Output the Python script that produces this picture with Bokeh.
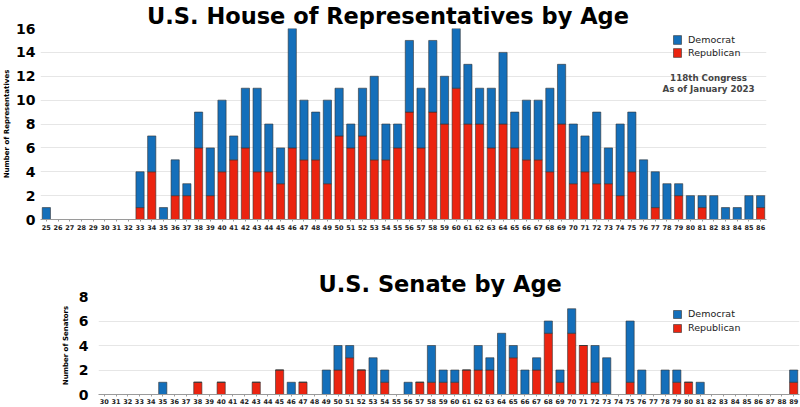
from bokeh.plotting import figure
from bokeh.models import Range1d, FactorRange, Legend, LegendItem, Label, ColumnDataSource
from bokeh.embed import file_html
from bokeh.resources import INLINE

# ---------------- data ----------------
house_ages = [str(a) for a in range(25, 87)]
house_rep = [0, 0, 0, 0, 0, 0, 0, 0, 1, 4, 0, 2, 2, 6, 2, 4, 5, 6, 4, 4, 3, 6, 5, 5, 3, 7, 6, 7, 5, 5,
             6, 9, 6, 9, 8, 11, 8, 8, 6, 8, 6, 5, 5, 4, 8, 3, 4, 3, 3, 2, 4, 0, 1, 0, 2, 0, 1, 0, 0, 0, 0, 1]
house_dem = [1, 0, 0, 0, 0, 0, 0, 0, 3, 3, 1, 3, 1, 3, 4, 6, 2, 5, 7, 4, 3, 10, 5, 4, 7, 4, 2, 4, 7, 3,
             2, 6, 5, 6, 4, 5, 5, 3, 5, 6, 3, 5, 5, 7, 5, 5, 3, 6, 3, 6, 5, 5, 3, 3, 1, 2, 1, 2, 1, 1, 2, 1]

senate_ages = [str(a) for a in range(30, 90)]
senate_rep = [0, 0, 0, 0, 0, 0, 0, 0, 1, 0, 1, 0, 0, 1, 0, 2, 0, 1, 0, 0, 2, 3, 2, 0, 1, 0, 0, 1, 1, 1,
              1, 2, 2, 2, 0, 3, 0, 2, 5, 1, 5, 4, 1, 0, 0, 1, 0, 0, 0, 1, 1, 0, 0, 0, 0, 0, 0, 0, 0, 1]
senate_dem = [0, 0, 0, 0, 0, 1, 0, 0, 0, 0, 0, 0, 0, 0, 0, 0, 1, 0, 0, 2, 2, 1, 0, 3, 1, 0, 1, 0, 3, 1,
              1, 0, 2, 1, 5, 1, 2, 1, 1, 1, 2, 0, 3, 3, 0, 5, 2, 0, 2, 1, 0, 1, 0, 0, 0, 0, 0, 0, 0, 1]

parties = ["rep", "dem"]
colors = ["#EB2410", "#146FBA"]

FONT = "DejaVu Sans"


def style(p, title, offset):
    p.title.text = title
    p.title.text_font = FONT
    p.title.text_font_style = "bold"
    p.title.text_font_size = "22.5px"
    p.title.text_color = "black"
    p.title.align = "left"
    p.title.offset = offset
    p.title.standoff = 0
    p.xgrid.grid_line_color = None
    p.ygrid.grid_line_color = "#e6e6e6"
    p.outline_line_color = None
    p.background_fill_color = "white"
    p.border_fill_color = "white"
    xa = p.xaxis[0]
    xa.axis_line_color = "#9a9a9a"
    xa.major_tick_line_color = "#9a9a9a"
    xa.major_tick_in = 0
    xa.major_tick_out = 2
    xa.major_label_text_font = FONT
    xa.major_label_text_font_style = "bold"
    xa.major_label_text_font_size = "6.5px"
    xa.major_label_text_color = "#222222"
    xa.major_label_standoff = 3
    ya = p.yaxis[0]
    ya.axis_line_color = None
    ya.major_tick_line_color = None
    ya.minor_tick_line_color = None
    ya.major_tick_in = 0
    ya.major_tick_out = 0
    ya.minor_tick_in = 0
    ya.minor_tick_out = 0
    ya.major_label_text_font = FONT
    ya.major_label_text_font_style = "bold"
    ya.major_label_text_font_size = "14px"
    ya.major_label_text_color = "black"
    ya.axis_label_text_font = FONT
    ya.axis_label_text_font_style = "bold"
    ya.axis_label_text_font_size = "7px"
    ya.axis_label_text_color = "black"


def legend(p, rs, loc, gh, sp):
    lg = Legend(items=[LegendItem(label="Democrat", renderers=[rs[1]]),
                       LegendItem(label="Republican", renderers=[rs[0]])],
                location=loc, glyph_width=10, glyph_height=gh, label_height=gh,
                spacing=sp, padding=0, margin=0, border_line_color=None,
                background_fill_alpha=0, label_text_font=FONT,
                label_text_color="#222222",
                label_text_font_size="9.5px", label_standoff=6)
    p.add_layout(lg)


# ---------------- House ----------------
hsrc = ColumnDataSource(dict(age=house_ages, rep=house_rep, dem=house_dem))
ph = figure(x_range=FactorRange(factors=house_ages), y_range=Range1d(0, 16),
            frame_width=726, frame_height=191, min_border_left=39, min_border_right=35,
            min_border_top=23, min_border_bottom=31,
            output_backend="svg", toolbar_location=None)
hr = ph.vbar_stack(parties, x="age", width=0.7, color=colors, line_color="#333333",
                   line_width=0.6, source=hsrc)
style(ph, "U.S. House of Representatives by Age", 106.5)
ph.yaxis[0].ticker = [0, 2, 4, 6, 8, 10, 12, 14, 16]
ph.yaxis[0].axis_label = "Number of Representatives"
ph.yaxis[0].major_label_standoff = 5
ph.yaxis[0].axis_label_standoff = 2
legend(ph, hr, (632, 161), 11, 2)
ph.add_layout(Label(x=668, y=141.5, x_units="screen", y_units="screen",
                    text="118th Congress", text_font=FONT, text_font_style="bold",
                    text_font_size="8.7px", text_align="center", text_baseline="alphabetic"))
ph.add_layout(Label(x=668, y=131, x_units="screen", y_units="screen",
                    text="As of January 2023", text_font=FONT, text_font_style="bold",
                    text_font_size="8.7px", text_align="center", text_baseline="alphabetic"))

# ---------------- Senate ----------------
ssrc = ColumnDataSource(dict(age=senate_ages, rep=senate_rep, dem=senate_dem))
ps = figure(x_range=FactorRange(factors=senate_ages), y_range=Range1d(0, 8),
            frame_width=701, frame_height=98, min_border_left=98, min_border_right=1,
            min_border_top=46, min_border_bottom=13,
            output_backend="svg", toolbar_location=None)
sr = ps.vbar_stack(parties, x="age", width=0.7, color=colors, line_color="#333333",
                   line_width=0.6, source=ssrc)
style(ps, "U.S. Senate by Age", 220)
ps.yaxis[0].ticker = [0, 2, 4, 6, 8]
ps.yaxis[0].axis_label = "Number of Senators"
ps.yaxis[0].major_label_standoff = 10
ps.yaxis[0].axis_label_standoff = 6
ps.xaxis[0].major_label_standoff = 2
legend(ps, sr, (574, 61), 10, 3)

open("out.html", "w").write(file_html([ph, ps], INLINE))
